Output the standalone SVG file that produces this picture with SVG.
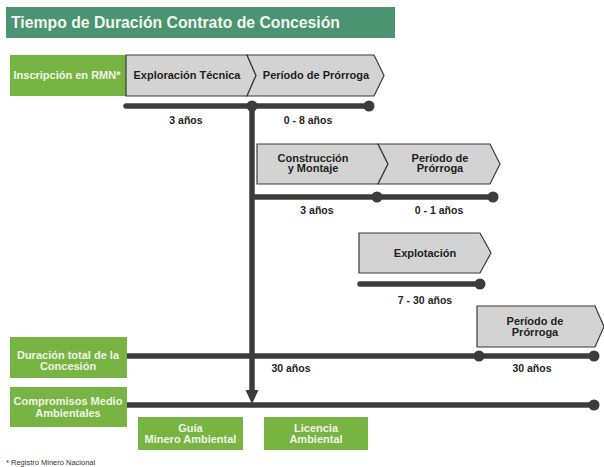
<svg xmlns="http://www.w3.org/2000/svg" width="604" height="467" viewBox="0 0 604 467">
<style>
.title{font-family:"Liberation Sans",Arial,sans-serif;font-weight:bold;font-size:16px;fill:#f4f6f0}
.gbox{fill:#78b443}
.gtxt{font-family:"Liberation Sans",Arial,sans-serif;font-weight:bold;font-size:11px;fill:#eef5e6;text-anchor:middle}
.chev{fill:#d3d3d3;stroke:#3a3a3a;stroke-width:1.2;stroke-linejoin:miter}
.ctxt{font-family:"Liberation Sans",Arial,sans-serif;font-weight:bold;font-size:11px;fill:#231f20;text-anchor:middle}
.ltxt{font-family:"Liberation Sans",Arial,sans-serif;font-weight:bold;font-size:10.5px;fill:#231f20;text-anchor:middle}
.tl{stroke:#3c3c3c;stroke-width:5.5;stroke-linecap:round;fill:none}
.dot{fill:#3c3c3c}
.foot{font-family:"Liberation Sans",Arial,sans-serif;font-size:7.5px;fill:#333}
</style>
<rect x="0" y="0" width="604" height="467" fill="#ffffff"/>

<g id="title">
<rect x="6" y="7" width="389" height="31" fill="#4a9471"/>
<text class="title" x="11" y="28" textLength="329" lengthAdjust="spacingAndGlyphs">Tiempo de Duración Contrato de Concesión</text>
</g>

<g id="inscripcion">
<rect class="gbox" x="10" y="55" width="116" height="41"/>
<text class="gtxt" x="67" y="79">Inscripción en RMN*</text>
</g>

<g id="exploracion">
<polygon class="chev" points="126,55 247,55 256,75.5 247,96 126,96"/>
<text class="ctxt" x="187" y="79">Exploración Técnica</text>
</g>

<g id="prorroga1">
<polygon class="chev" points="247,55 374,55 384,75.5 374,96 247,96 256,75.5"/>
<text class="ctxt" x="316" y="79">Período de Prórroga</text>
</g>

<g id="construccion">
<polygon class="chev" points="257,144 378,144 388,164 378,184 257,184"/>
<text class="ctxt" x="313" y="161.5">Construcción</text>
<text class="ctxt" x="313" y="172">y Montaje</text>
</g>

<g id="prorroga2">
<polygon class="chev" points="378,144 490,144 500,164 490,184 378,184 388,164"/>
<text class="ctxt" x="440" y="161.5">Período de</text>
<text class="ctxt" x="440" y="172">Prórroga</text>
</g>

<g id="explotacion">
<polygon class="chev" points="359,233 480,233 491,253 480,273 359,273"/>
<text class="ctxt" x="425" y="257">Explotación</text>
</g>

<g id="prorroga3">
<polygon class="chev" points="477,306 595,306 604,326.5 595,347 477,347"/>
<text class="ctxt" x="535" y="324.5">Período de</text>
<text class="ctxt" x="535" y="335.5">Prórroga</text>
</g>

<g id="duracion">
<rect class="gbox" x="10" y="337" width="117" height="41"/>
<text class="gtxt" x="68" y="358.5">Duración total de la</text>
<text class="gtxt" x="68" y="369.5">Concesión</text>
</g>

<g id="compromisos">
<rect class="gbox" x="10" y="387" width="117" height="40"/>
<text class="gtxt" x="68" y="405">Compromisos Medio</text>
<text class="gtxt" x="68" y="416.5">Ambientales</text>
</g>

<g id="guia">
<rect class="gbox" x="138" y="417" width="105" height="33"/>
<text class="gtxt" x="190.5" y="431.5">Guía</text>
<text class="gtxt" x="190.5" y="442.5">Minero Ambiental</text>
</g>

<g id="licencia">
<rect class="gbox" x="264" y="417" width="104" height="33"/>
<text class="gtxt" x="316" y="431.5">Licencia</text>
<text class="gtxt" x="316" y="442.5">Ambiental</text>
</g>

<g id="connectors">
<line class="tl" x1="126" y1="106" x2="369" y2="106"/>
<circle class="dot" cx="252" cy="106" r="5.5"/>
<circle class="dot" cx="369" cy="106" r="5.5"/>

<line class="tl" x1="252" y1="106" x2="252" y2="392" style="stroke-linecap:butt"/>
<polygon class="dot" points="245.5,390 258.5,390 252,404"/>

<line class="tl" x1="252" y1="197" x2="493" y2="197" style="stroke-linecap:butt"/>
<circle class="dot" cx="377" cy="197" r="5.5"/>
<circle class="dot" cx="493" cy="197" r="5.5"/>

<line class="tl" x1="360" y1="284" x2="480" y2="284"/>
<circle class="dot" cx="480" cy="284" r="5.5"/>

<line class="tl" x1="127" y1="356" x2="594" y2="356" style="stroke-linecap:butt"/>
<circle class="dot" cx="479" cy="356" r="5.5"/>
<circle class="dot" cx="594" cy="356" r="5.5"/>

<line class="tl" x1="127" y1="405" x2="594" y2="405" style="stroke-linecap:butt"/>
<circle class="dot" cx="594" cy="405" r="5.5"/>
</g>

<g id="labels">
<text class="ltxt" x="186" y="124">3 años</text>
<text class="ltxt" x="308" y="124">0 - 8 años</text>
<text class="ltxt" x="317" y="214">3 años</text>
<text class="ltxt" x="439" y="214">0 - 1 años</text>
<text class="ltxt" x="425" y="303.5">7 - 30 años</text>
<text class="ltxt" x="291" y="371.5">30 años</text>
<text class="ltxt" x="532" y="371.5">30 años</text>
</g>

<text class="foot" x="6" y="465">* Registro Minero Nacional</text>
</svg>
